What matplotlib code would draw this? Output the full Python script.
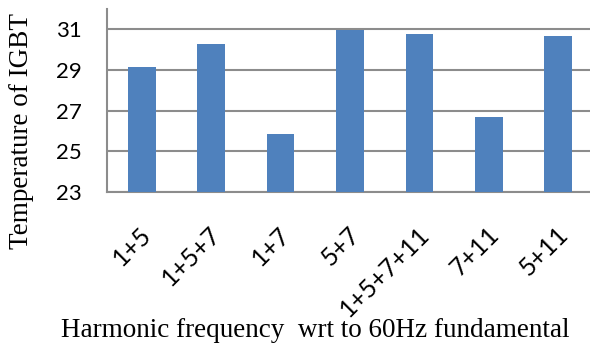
import matplotlib
matplotlib.use("Agg")
import matplotlib.pyplot as plt
from matplotlib.transforms import ScaledTranslation

# values
combos = ["1+5", "1+5+7", "1+7", "5+7", "1+5+7+11", "7+11", "5+11"]
igbt_temp = [29.17, 30.26, 25.86, 30.95, 30.75, 26.7, 30.65]
y_ticks = [23, 25, 27, 29, 31]

bar_color = "#4F81BD"
grid_color = "#8C8C8C"

fig = plt.figure(figsize=(5.9, 3.43), dpi=100)
# axes box measured in pixels from the reference
ax = fig.add_axes([107 / 590, 1 - 192 / 343, 486 / 590, 183 / 343])

ax.bar(range(len(combos)), igbt_temp, width=0.4, color=bar_color, zorder=3)
ax.set_xlim(-0.5, len(combos) - 0.5)
ax.set_ylim(23, 32)
ax.set_yticks(y_ticks)
ax.yaxis.grid(True, color=grid_color, linewidth=1.5, zorder=0)

for side in ["top", "right"]:
    ax.spines[side].set_visible(False)
for side in ["left", "bottom"]:
    ax.spines[side].set_color(grid_color)
    ax.spines[side].set_linewidth(1.5)

ax.set_xticks(range(len(combos)))
ax.set_xticklabels(combos, rotation=45, ha="right", va="top",
                   rotation_mode="anchor", family="Lato", fontsize=18)
ax.tick_params(axis="x", length=0, pad=22)
ax.tick_params(axis="y", length=0, pad=18, labelsize=16)
for lbl in ax.get_yticklabels():
    lbl.set_family("Lato")
# nudge the rotated labels a little to the left, like the reference
shift = ScaledTranslation(-2 / 100, 0, fig.dpi_scale_trans)
for lbl in ax.get_xticklabels():
    lbl.set_transform(lbl.get_transform() + shift)

fig.text(22 / 590, 1 - 131 / 343, "Temperature of IGBT", rotation=90,
         ha="center", va="center", family="Liberation Serif", fontsize=19.5)
fig.text(315 / 590, 6 / 343, "Harmonic frequency  wrt to 60Hz fundamental",
         ha="center", va="baseline", family="Liberation Serif", fontsize=19.5)

fig.savefig("out.png", dpi=100)
